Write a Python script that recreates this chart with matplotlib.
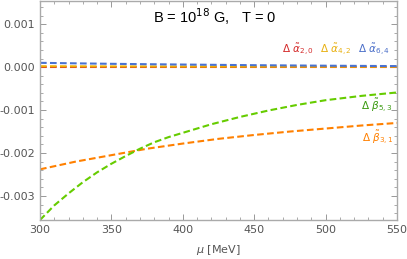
import numpy as np
import matplotlib
matplotlib.use("Agg")
import matplotlib.pyplot as plt
from matplotlib.ticker import MultipleLocator, FuncFormatter

plt.rcParams['mathtext.fontset'] = 'dejavusans'

mu_beta53 = [300, 310, 320, 330, 340, 350, 360, 370, 380, 390, 400, 420, 440, 460, 480, 500, 525, 550]
d_beta53 = [-0.00356, -0.00322, -0.00294, -0.00268, -0.00245, -0.00225, -0.00207, -0.00190,
            -0.00175, -0.00163, -0.00153, -0.00133, -0.00116, -0.00101, -0.00088, -0.00077,
            -0.00067, -0.00059]
mu_beta31 = [300, 325, 350, 375, 400, 425, 450, 475, 500, 525, 550]
d_beta31 = [-0.00238, -0.00220, -0.00205, -0.00190, -0.00178, -0.00167, -0.00158, -0.00150,
            -0.00143, -0.00136, -0.00130]
mu_alpha = [300, 325, 350, 375, 400, 450, 500, 550]
d_alpha20 = [0.0, 0.0, 0.0, 0.0, 0.0, 0.0, 0.0, 0.0]
d_alpha42 = [0.00002, 0.000018, 0.000016, 0.000015, 0.000013, 0.000011, 0.00001, 0.000009]
d_alpha64 = [0.00010, 0.000088, 0.000077, 0.000068, 0.000060, 0.000045, 0.000033, 0.000024]

fig = plt.figure(figsize=(4.07, 2.59), dpi=100)
ax = fig.add_axes([40/407, 1-220/259, 357/407, 219/259])

dash = (0, (3.2, 1.6))
gray = "#888888"
ax.plot(mu_beta31, d_beta31, color="#ff8000", lw=1.5, linestyle=dash)
ax.plot(mu_beta53, d_beta53, color="#66cc00", lw=1.5, linestyle=dash)
ax.plot(mu_alpha, d_alpha20, color="#d62728", lw=1.5, linestyle=dash)
ax.plot(mu_alpha, d_alpha42, color="#f0b000", lw=1.5, linestyle=dash)
ax.plot(mu_alpha, d_alpha64, color="#4a72d0", lw=1.5, linestyle=dash)

ax.set_xlim(300, 550)
ax.set_ylim(-0.00356, 0.00154)
ax.xaxis.set_major_locator(MultipleLocator(50))
ax.xaxis.set_minor_locator(MultipleLocator(10))
ax.yaxis.set_major_locator(MultipleLocator(0.001))
ax.yaxis.set_minor_locator(MultipleLocator(0.0002))
ax.yaxis.set_major_formatter(FuncFormatter(lambda v, p: "%.3f" % v if abs(v) > 1e-9 else "0.000"))
ax.tick_params(which="both", direction="in", top=True, right=True, colors=gray,
               labelcolor="#555555", labelsize=8)
ax.tick_params(which="major", length=4, width=0.6)
ax.tick_params(which="minor", length=2, width=0.5)
for s in ax.spines.values():
    s.set_color("#aaaaaa")
    s.set_linewidth(1.0)

fig.text(218/407, 1-250/259, r"$\mu$ [MeV]", fontsize=8, color="#555555", ha="center", va="center")

ax.text(0.317, 0.93, r"B = 10$^{18}$ G,   T = 0", transform=ax.transAxes, fontsize=10.5,
        color="black", ha="left", va="center", family="Liberation Sans")

lab_fs = 7.5
ax.text(0.677, 0.775, r"$\Delta\ \tilde{\alpha}_{2,0}$", transform=ax.transAxes, color="#d42a2a",
        fontsize=lab_fs, ha="left", va="center")
ax.text(0.784, 0.775, r"$\Delta\ \tilde{\alpha}_{4,2}$", transform=ax.transAxes, color="#e8b010",
        fontsize=lab_fs, ha="left", va="center")
ax.text(0.890, 0.775, r"$\Delta\ \tilde{\alpha}_{6,4}$", transform=ax.transAxes, color="#4a6ec8",
        fontsize=lab_fs, ha="left", va="center")
ax.text(0.989, 0.52, r"$\Delta\ \tilde{\beta}_{5,3}$", transform=ax.transAxes, color="#3a9a10",
        fontsize=lab_fs, ha="right", va="center")
ax.text(0.989, 0.374, r"$\Delta\ \tilde{\beta}_{3,1}$", transform=ax.transAxes, color="#ff8000",
        fontsize=lab_fs, ha="right", va="center")

fig.savefig("out.png", dpi=100)
